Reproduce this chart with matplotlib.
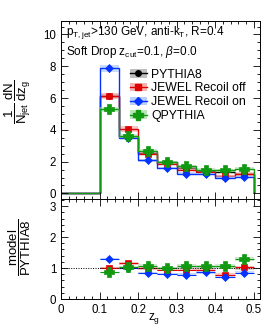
import numpy as np
import matplotlib
matplotlib.use("Agg")
import matplotlib.pyplot as plt
from matplotlib.patches import Patch
from matplotlib.lines import Line2D

plt.rcParams.update({
    "font.family": ["Liberation Sans", "DejaVu Sans"],
    "mathtext.fontset": "custom",
    "mathtext.rm": "Liberation Sans",
    "mathtext.it": "Liberation Sans:italic",
    "mathtext.bf": "Liberation Sans:bold",
    "font.size": 8.3,
})

# ---------------- data ----------------
edges = [0.0, 0.05, 0.10, 0.15, 0.20, 0.25, 0.30, 0.35, 0.40, 0.45, 0.50]
pythia = [0.0, 0.0, 6.13, 3.52, 2.52, 1.98, 1.60, 1.42, 1.38, 1.22]
jewel_off = [0.0, 0.0, 6.14, 4.04, 2.50, 1.87, 1.50, 1.35, 1.08, 1.25]
jewel_on = [0.0, 0.0, 7.87, 3.50, 2.08, 1.60, 1.25, 1.22, 1.00, 1.04]
qpythia = [0.0, 0.0, 5.29, 3.60, 2.70, 1.98, 1.73, 1.50, 1.46, 1.56]

err_pythia = [0.0, 0.0, 0.15, 0.10, 0.08, 0.07, 0.06, 0.06, 0.06, 0.06]
err_off = [0.0, 0.0, 0.18, 0.20, 0.10, 0.08, 0.07, 0.07, 0.06, 0.07]
err_on = [0.0, 0.0, 0.20, 0.10, 0.08, 0.07, 0.07, 0.07, 0.07, 0.07]
err_q = [0.0, 0.0, 0.15, 0.12, 0.12, 0.09, 0.08, 0.08, 0.08, 0.08]

labels = ["PYTHIA8", "JEWEL Recoil off", "JEWEL Recoil on", "QPYTHIA"]

# ---------------- styles ----------------
colors = ["black", "#e00000", "#0033ff", "#119911"]
bands = ["#b0b0b0", "#f4a0a0", "#a8c4f8", "#a8e0a8"]
markers = ["o", "s", "D", "P"]
msizes = [4, 4, 3.6, 6.5]

series = [pythia, jewel_off, jewel_on, qpythia]
errors = [err_pythia, err_off, err_on, err_q]

edges = np.array(edges)
centers = 0.5 * (edges[1:] + edges[:-1])
halfw = 0.5 * (edges[1:] - edges[:-1])
filled = np.array(pythia) > 0

fig = plt.figure(figsize=(2.74, 3.33), dpi=100)
ax = fig.add_axes([0.2226, 0.4024, 0.7264, 0.5346])
axr = fig.add_axes([0.2226, 0.102, 0.7264, 0.3004], sharex=ax)

handles = []
for y, e, c, b, m, ms, lab in zip(series, errors, colors, bands, markers, msizes, labels):
    y = np.array(y)
    e = np.array(e)
    yy = np.append(y, y[-1])
    ee = np.append(e, e[-1])
    ax.fill_between(edges, yy - ee, yy + ee, step="post", color=b, alpha=0.6, lw=0)
    ax.stairs(y, edges, color=c, lw=1.0)
    ax.errorbar(centers[filled], y[filled], yerr=e[filled], fmt=m, color=c,
                ms=ms, mew=0.5, elinewidth=0.8, capsize=0)

    # ratio panel
    r = y[filled] / np.array(pythia)[filled]
    re = e[filled] / np.array(pythia)[filled]
    axr.bar(centers[filled], 2 * re, bottom=r - re, width=2 * halfw[filled],
            color=b, alpha=0.6, lw=0)
    if lab != "PYTHIA8":
        axr.errorbar(centers[filled], r, xerr=halfw[filled], yerr=re, fmt=m,
                     color=c, ms=ms, mew=0.5, elinewidth=0.8, capsize=0)

    handles.append((Patch(facecolor=b, alpha=0.8, lw=0),
                    Line2D([], [], color=c, lw=1.0, marker=m, ms=ms)))

axr.axhline(1.0, color="black", lw=0.7, ls=(0, (1, 1.5)))

ax.set_xlim(0, 0.516)
ax.set_ylim(-0.35, 10.85)
axr.set_ylim(0, 3.23)

ax.set_yticks([0, 2, 4, 6, 8, 10])
ax.set_yticks(np.arange(0, 10.8, 0.5), minor=True)
axr.set_yticks([0, 1, 2, 3])
axr.set_yticks(np.arange(0, 3.21, 0.2), minor=True)
axr.set_xticks([0, 0.1, 0.2, 0.3, 0.4, 0.5])
axr.set_xticklabels(["0", "0.1", "0.2", "0.3", "0.4", "0.5"])
axr.set_xticks(np.arange(0, 0.516, 0.02), minor=True)

for a in (ax, axr):
    a.tick_params(which="both", direction="in", top=True, right=True, width=0.6)
    a.tick_params(which="major", length=5)
    a.tick_params(which="minor", length=2.5)
    for s in a.spines.values():
        s.set_linewidth(0.7)
ax.tick_params(labelbottom=False)

ax.set_ylabel(r"$\dfrac{\mathrm{1}}{\mathrm{N_{jet}}}\,\dfrac{\mathrm{dN}}{\mathrm{dz_{g}}}$",
              fontsize=9.5)
axr.set_ylabel(r"$\dfrac{\mathrm{model}}{\mathrm{PYTHIA8}}$", fontsize=9.5)
ax.yaxis.set_label_coords(-0.14, 0.55)
axr.yaxis.set_label_coords(-0.14, 0.52)
axr.set_xlabel(r"z$_{\mathrm{g}}$", fontsize=8.5)
axr.xaxis.set_label_coords(0.47, -0.12)

ax.text(0.025, 0.938, r"p$_{\mathrm{T,jet}}$>130 GeV, anti-k$_{\mathrm{T}}$, R=0.4",
        transform=ax.transAxes, va="center", ha="left", fontsize=8.5)
ax.text(0.025, 0.826, r"Soft Drop z$_{\mathrm{cut}}$=0.1, $\beta$=0.0",
        transform=ax.transAxes, va="center", ha="left", fontsize=8.5)

ax.legend(handles, labels, loc="upper left", bbox_to_anchor=(0.345, 0.733),
          frameon=False, borderpad=0, borderaxespad=0, handlelength=1.4,
          handletextpad=0.35, labelspacing=0.15, fontsize=8.8)

fig.savefig("out.png", dpi=100)
